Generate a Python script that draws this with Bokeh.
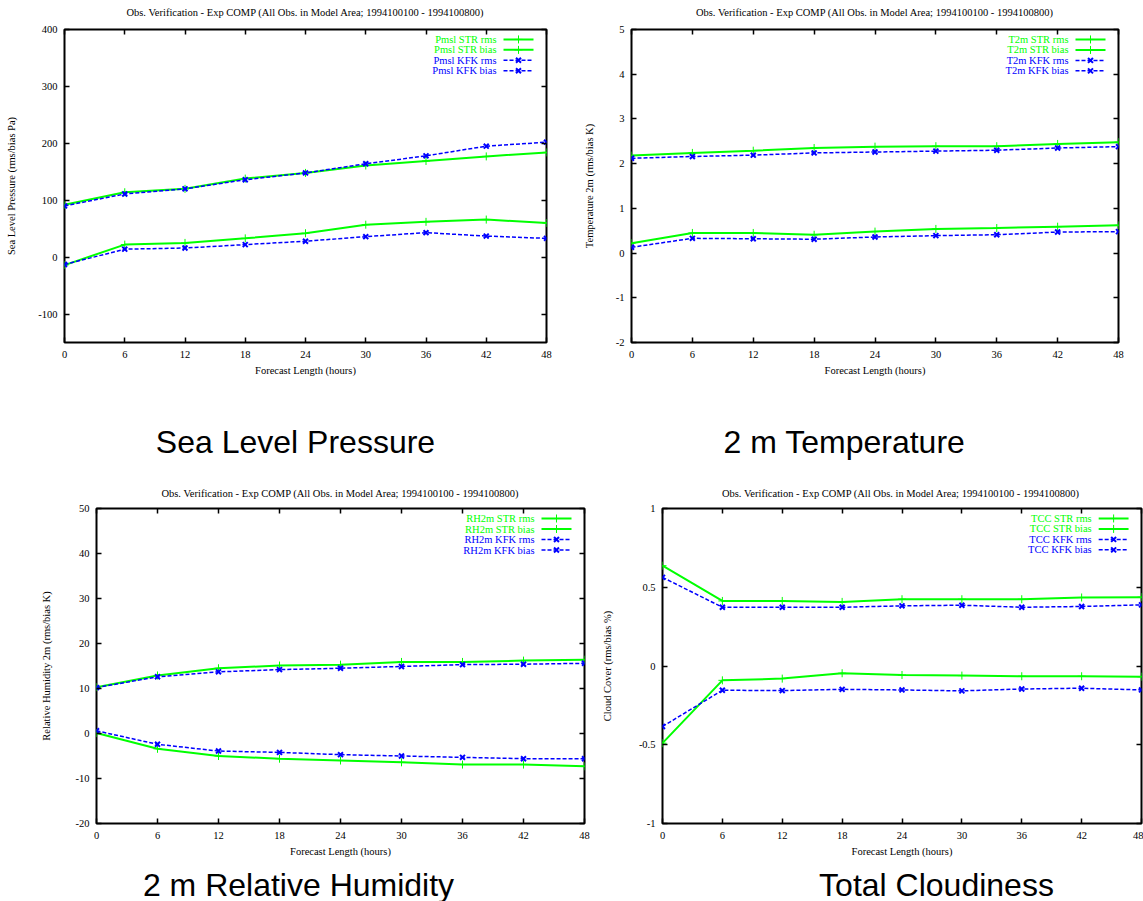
from bokeh.plotting import figure
from bokeh.models import LinearAxis, FixedTicker, Label, Range1d, CustomJSTickFormatter
from bokeh.layouts import column, row
from bokeh.embed import file_html
from bokeh.resources import INLINE

# ---------------- data ----------------
hours = [0, 6, 12, 18, 24, 30, 36, 42, 48]

pmsl_str_rms = [92, 114, 120, 138, 148, 161, 169, 177, 184]
pmsl_str_bias = [-14, 22, 25, 33, 42, 57, 62, 66, 60]
pmsl_kfk_rms = [90, 111, 120, 136, 148, 164, 178, 195, 202]
pmsl_kfk_bias = [-13, 14, 16, 22, 28, 36, 43, 37, 33]

t2m_str_rms = [2.18, 2.24, 2.29, 2.35, 2.38, 2.39, 2.39, 2.44, 2.48]
t2m_str_bias = [0.22, 0.45, 0.45, 0.41, 0.48, 0.54, 0.56, 0.59, 0.62]
t2m_kfk_rms = [2.12, 2.16, 2.19, 2.24, 2.26, 2.28, 2.30, 2.35, 2.38]
t2m_kfk_bias = [0.13, 0.33, 0.32, 0.31, 0.36, 0.39, 0.41, 0.47, 0.48]

rh_str_rms = [10.3, 12.9, 14.5, 15.1, 15.3, 15.9, 15.9, 16.2, 16.4]
rh_str_bias = [0.1, -3.4, -5.0, -5.6, -6.0, -6.4, -6.9, -6.9, -7.3]
rh_kfk_rms = [10.2, 12.6, 13.7, 14.2, 14.5, 14.9, 15.3, 15.4, 15.6]
rh_kfk_bias = [0.6, -2.4, -3.9, -4.2, -4.7, -5.0, -5.3, -5.6, -5.6]

tcc_str_rms = [0.637, 0.413, 0.413, 0.407, 0.424, 0.424, 0.424, 0.435, 0.437]
tcc_str_bias = [-0.49, -0.091, -0.080, -0.046, -0.057, -0.061, -0.065, -0.065, -0.068]
tcc_kfk_rms = [0.563, 0.373, 0.373, 0.373, 0.382, 0.386, 0.373, 0.378, 0.388]
tcc_kfk_bias = [-0.384, -0.154, -0.156, -0.148, -0.152, -0.158, -0.146, -0.141, -0.152]

x_ticks = [0, 6, 12, 18, 24, 30, 36, 42, 48]
pmsl_ticks = [-100, 0, 100, 200, 300, 400]
t2m_ticks = [-2, -1, 0, 1, 2, 3, 4, 5]
rh_ticks = [-20, -10, 0, 10, 20, 30, 40, 50]
tcc_ticks = [-1, -0.5, 0, 0.5, 1]

TITLE = "Obs. Verification - Exp COMP (All Obs. in Model Area; 1994100100 - 1994100800)"
XLABEL = "Forecast Length (hours)"
captions = ["Sea Level Pressure", "2 m Temperature", "2 m Relative Humidity", "Total Cloudiness"]

# ---------------- style ----------------
SERIF = "Liberation Serif"
SANS = "Liberation Sans"
SMALL = "10.5px"
GREEN = "#00ff00"
BLUE = "#0000ff"
FMT = "return tick.toString();"


def style_axis(ax, ticks, labels=True):
    ax.ticker = FixedTicker(ticks=ticks)
    ax.formatter = CustomJSTickFormatter(code=FMT)
    ax.axis_line_color = None
    ax.major_tick_in = 5
    ax.major_tick_out = 0
    ax.major_tick_line_color = "black"
    ax.major_tick_line_width = 1.5
    ax.minor_tick_line_color = None
    ax.major_label_text_font = SERIF
    ax.axis_label_text_font = SERIF
    ax.axis_label_text_font_style = "normal"
    ax.axis_label_text_font_size = SMALL
    ax.axis_label_text_color = "black"
    if labels:
        ax.major_label_text_font_size = SMALL
        ax.major_label_text_color = "black"
    else:
        ax.major_label_text_font_size = "0px"
        ax.major_label_text_color = None
        ax.major_label_standoff = 0
        ax.axis_label_standoff = 0


def text_fig(w, h, items):
    """A bare strip whose frame is the whole canvas; coordinates are pixels from top-left."""
    f = figure(width=w, height=h, x_range=Range1d(0, w), y_range=Range1d(h, 0),
               x_axis_type=None, y_axis_type=None, title=None,
               output_backend="svg", toolbar_location=None, min_border=0)
    f.grid.visible = False
    f.outline_line_color = None
    f.background_fill_color = "white"
    f.border_fill_color = "white"
    for (x, y, txt, font, size) in items:
        f.add_layout(Label(x=x, y=y, text=txt, text_align="center", text_baseline="middle",
                           text_font=font, text_font_size=size, text_color="black"))
    return f


def panel(x0, y0, w, h, fl, fr, ft, fb, ylo, yhi, yticks, ylabel, ylab_standoff,
          prefix, series):
    bl, br, bt, bb = fl - x0, x0 + w - fr, ft - y0, y0 + h - fb
    p = figure(width=w, height=h, x_range=Range1d(0, 48), y_range=Range1d(ylo, yhi),
               title=None, output_backend="svg", toolbar_location=None,
               min_border_left=bl, min_border_right=br,
               min_border_top=bt, min_border_bottom=bb)
    p.grid.visible = False
    p.outline_line_color = "black"
    p.outline_line_width = 2
    p.background_fill_color = "white"
    p.border_fill_color = "white"

    style_axis(p.xaxis[0], x_ticks)
    p.xaxis[0].axis_label = XLABEL
    p.xaxis[0].major_label_standoff = 8
    p.xaxis[0].axis_label_standoff = 4
    style_axis(p.yaxis[0], yticks)
    p.yaxis[0].axis_label = ylabel
    p.yaxis[0].major_label_standoff = 7
    p.yaxis[0].axis_label_standoff = ylab_standoff

    top = LinearAxis()
    style_axis(top, x_ticks, labels=False)
    p.add_layout(top, "above")
    right = LinearAxis()
    style_axis(right, yticks, labels=False)
    p.add_layout(right, "right")

    fw = fr - fl
    fh = fb - ft

    def xd(px_from_right):
        return 48 - px_from_right * 48.0 / fw

    def yd(px_from_top):
        return yhi - px_from_top * (yhi - ylo) / fh

    names = ["STR rms", "STR bias", "KFK rms", "KFK bias"]
    row_off = [10, 20.5, 31, 41.5]
    for i, (vals, name) in enumerate(zip(series, names)):
        is_str = name.startswith("STR")
        col = GREEN if is_str else BLUE
        if is_str:
            p.line(hours, vals, line_color=col, line_width=2)
            p.scatter(hours, vals, marker="cross", size=8, line_color=col, line_width=1)
        else:
            p.line(hours, vals, line_color=col, line_width=1.5, line_dash="4 2")
            p.scatter(hours, vals, marker="x", size=7, line_color=col, line_width=2)
        # legend entry: text, then line sample
        yy = yd(row_off[i])
        p.add_layout(Label(x=xd(50), y=yy, text=prefix + " " + name, text_align="right",
                           text_baseline="middle", text_color=col, text_font=SERIF,
                           text_font_size=SMALL))
        if is_str:
            p.line([xd(43), xd(13)], [yy, yy], line_color=col, line_width=2)
            p.scatter([xd(28)], [yy], marker="cross", size=8, line_color=col, line_width=1)
        else:
            p.line([xd(43), xd(13)], [yy, yy], line_color=col, line_width=1.5, line_dash="4 2")
            p.scatter([xd(28)], [yy], marker="x", size=7, line_color=col, line_width=2)
    return p


# page geometry (pixels from top-left)
W1, W2 = 580, 563      # top row widths
W3, W4 = 598, 545      # bottom row widths

t1 = text_fig(W1, 20, [((64 + 546) / 2, 12, TITLE, SERIF, SMALL)])
t2 = text_fig(W2, 20, [((631 + 1118) / 2 - W1, 12, TITLE, SERIF, SMALL)])

p1 = panel(0, 20, W1, 360, 64, 546, 29, 344, -150, 400, pmsl_ticks,
           "Sea Level Pressure (rms/bias Pa)", 18, "Pmsl",
           [pmsl_str_rms, pmsl_str_bias, pmsl_kfk_rms, pmsl_kfk_bias])
p2 = panel(W1, 20, W2, 360, 631, 1118, 28, 342, -2, 5, t2m_ticks,
           "Temperature 2m (rms/bias K)", 18, "T2m",
           [t2m_str_rms, t2m_str_bias, t2m_kfk_rms, t2m_kfk_bias])

c1 = text_fig(W1, 86, [(295, 441 - 380, captions[0], SANS, "32px")])
c2 = text_fig(W2, 86, [(844 - W1, 441 - 380, captions[1], SANS, "32px")])

t3 = text_fig(W3, 34, [((96 + 584) / 2, 493 - 466, TITLE, SERIF, SMALL)])
t4 = text_fig(W4, 34, [((660 + 1141) / 2 - W3, 493 - 466, TITLE, SERIF, SMALL)])

p3 = panel(0, 500, W3, 360, 96, 584, 508, 823, -20, 50, rh_ticks,
           "Relative Humidity 2m (rms/bias K)", 21, "RH2m",
           [rh_str_rms, rh_str_bias, rh_kfk_rms, rh_kfk_bias])
p4 = panel(W3, 500, W4, 360, 660, 1141, 508, 824, -1, 1, tcc_ticks,
           "Cloud Cover (rms/bias %)", 23, "TCC",
           [tcc_str_rms, tcc_str_bias, tcc_kfk_rms, tcc_kfk_bias])

c3 = text_fig(W3, 41, [(298, 884 - 860, captions[2], SANS, "32px")])
c4 = text_fig(W4, 41, [(936 - W3, 884 - 860, captions[3], SANS, "32px")])

layout = column(row(t1, t2), row(p1, p2), row(c1, c2),
                row(t3, t4), row(p3, p4), row(c3, c4))
open("out.html", "w").write(file_html(layout, INLINE, "Obs. Verification"))
